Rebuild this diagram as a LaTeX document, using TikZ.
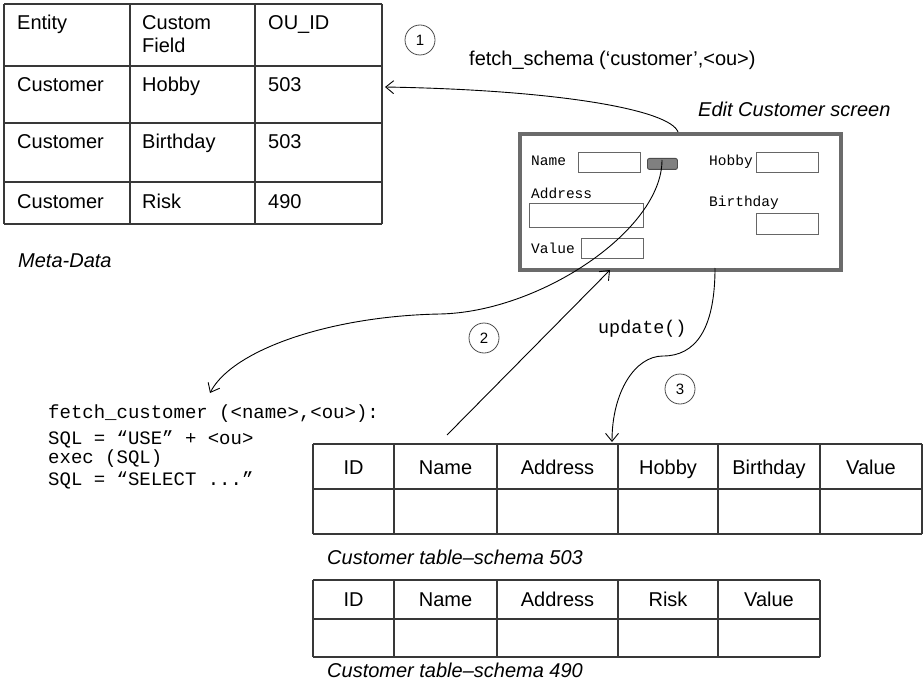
\documentclass[tikz,border=0pt]{standalone}
\usepackage{fontspec}
\setmainfont{Liberation Sans}
\setmonofont{Liberation Mono}
\usetikzlibrary{arrows.meta}
\tikzset{
  tline/.style={draw=black!78, line width=1.2pt},
  lbl/.style={anchor=base west, inner sep=0pt},
  sans/.style={lbl, font=\fontsize{20}{24}\selectfont},
  sansit/.style={lbl, font=\fontsize{20}{24}\selectfont\itshape},
  hdr/.style={anchor=base, inner sep=0pt, font=\fontsize{20}{24}\selectfont},
  scr/.style={lbl, font=\ttfamily\fontsize{14.5}{17}\selectfont},
  code/.style={lbl, font=\ttfamily\fontsize{19}{22}\selectfont},
  screenbox/.style={draw=black!58, line width=4pt, fill=white, inner sep=0pt, anchor=north west},
  field/.style={draw=black!60, line width=0.9pt, fill=white, inner sep=0pt, anchor=north west},
  button/.style={draw=black!70, fill=black!50, line width=0.9pt, rounded corners=2pt, inner sep=0pt, anchor=north west},
  circ/.style={circle, draw=black!70, line width=0.8pt, minimum size=30pt, inner sep=0pt, font=\fontsize{15}{17}\selectfont},
  arr/.style={draw=black, line width=0.9pt, -{Straight Barb[length=8pt,width=13pt]}},
}
\begin{document}
\begin{tikzpicture}[x=1pt,y=-1pt]
\useasboundingbox (0,0) rectangle (923,687);

% ---------- Meta-data table ----------
\node[inner sep=0pt, minimum width=378pt, minimum height=220pt, anchor=north west] (meta) at (4,4) {};
\foreach \y in {4,66,123,182,224} \draw[tline] (4,\y) -- (382,\y);
\foreach \x in {4,130,255,382} \draw[tline] (\x,4) -- (\x,224);
\node[sans] (mh1) at (17,30) {Entity};
\node[sans] (mh2) at (142,30) {Custom};
\node[sans] (mh2b) at (142,53) {Field};
\node[sans] (mh3) at (268,30) {OU\_ID};
\node[sans] (m11) at (17,92) {Customer};
\node[sans] (m12) at (142,92) {Hobby};
\node[sans] (m13) at (268,92) {503};
\node[sans] (m21) at (17,149) {Customer};
\node[sans] (m22) at (142,149) {Birthday};
\node[sans] (m23) at (268,149) {503};
\node[sans] (m31) at (17,208) {Customer};
\node[sans] (m32) at (142,208) {Risk};
\node[sans] (m33) at (268,208) {490};
\node[sansit] (metacap) at (18,267) {Meta-Data};

% ---------- step labels ----------
\node[circ] (c1) at (420,40) {1};
\node[circ] (c2) at (484,338) {2};
\node[circ] (c3) at (680,389) {3};
\node[sans] (fs) at (469,66) {fetch\_schema (‘customer’,<ou>)};
\node[sansit] (ecs) at (698,117) {Edit Customer screen};

% ---------- Edit Customer screen ----------
\node[screenbox, minimum width=321pt, minimum height=136pt] (screen) at (518,132) {};
\node[scr] (lName) at (531,166) {Name};
\node[field, minimum width=62pt, minimum height=20pt] (fName) at (578,152) {};
\node[button, minimum width=30pt, minimum height=11pt] (btn) at (647,158) {};
\node[scr] (lHobby) at (709,166) {Hobby};
\node[field, minimum width=62pt, minimum height=20pt] (fHobby) at (756,152) {};
\node[scr] (lAddr) at (531,199) {Address};
\node[field, minimum width=114pt, minimum height=24pt] (fAddr) at (529,203) {};
\node[scr] (lBirth) at (709,207) {Birthday};
\node[field, minimum width=62pt, minimum height=21pt] (fBirth) at (756,213) {};
\node[scr] (lValue) at (531,253) {Value};
\node[field, minimum width=62pt, minimum height=20pt] (fValue) at (581,238) {};

% ---------- code ----------
\node[code] (code1) at (48,418) {fetch\_customer (<name>,<ou>):};
\node[code] (code2) at (48,444) {SQL = “USE” + <ou>};
\node[code] (code3) at (48,463) {exec (SQL)};
\node[code] (code4) at (48,485) {SQL = “SELECT ...”};
\node[lbl, font=\ttfamily\fontsize{18.4}{21}\selectfont] (upd) at (598,333) {update()};

% ---------- table schema 503 ----------
\foreach \y in {444,489,534} \draw[tline] (313,\y) -- (922,\y);
\foreach \x in {313,394,497,618,718,820,922} \draw[tline] (\x,444) -- (\x,534);
\node[hdr] (a1) at (353.5,474) {ID};
\node[hdr] (a2) at (445.5,474) {Name};
\node[hdr] (a3) at (557.5,474) {Address};
\node[hdr] (a4) at (668,474) {Hobby};
\node[hdr] (a5) at (769,474) {Birthday};
\node[hdr] (a6) at (871,474) {Value};
\node[sansit] (cap503) at (327,564) {Customer table–schema 503};

% ---------- table schema 490 ----------
\foreach \y in {580,619,657} \draw[tline] (313,\y) -- (820,\y);
\foreach \x in {313,394,497,618,718,820} \draw[tline] (\x,580) -- (\x,657);
\node[hdr] (b1) at (353.5,606) {ID};
\node[hdr] (b2) at (445.5,606) {Name};
\node[hdr] (b3) at (557.5,606) {Address};
\node[hdr] (b4) at (668,606) {Risk};
\node[hdr] (b5) at (769,606) {Value};
\node[sansit] (cap490) at (327,677) {Customer table–schema 490};

% ---------- connectors ----------
\coordinate (s1) at (678,132);
\coordinate (metaR) at (385,87);
\draw[arr] (s1) .. controls (670,110) and (560,90) .. (metaR);

\coordinate (btnTop) at (662,160);
\coordinate (codeTop) at (210,393);
\draw[arr] (btnTop) .. controls (662,230) and (540,312) .. (440,314)
               .. controls (330,316) and (232,350) .. (codeTop);

\coordinate (t503) at (447,435);
\coordinate (scrB) at (610,270);
\draw[arr] (t503) -- (scrB);

\coordinate (s3) at (715,268);
\coordinate (t503top) at (612,442);
\draw[arr] (s3) .. controls (715,330) and (695,356) .. (663,356)
              .. controls (635,356) and (612,392) .. (t503top);
\end{tikzpicture}
\end{document}
